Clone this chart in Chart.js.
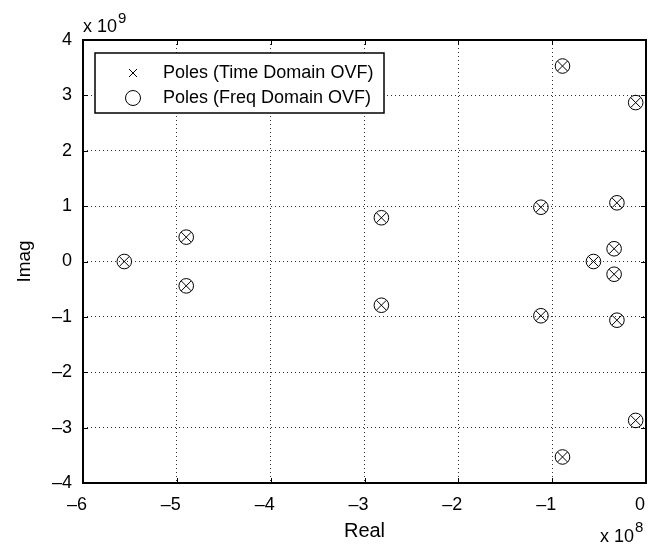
<!DOCTYPE html>
<html>
<head>
<meta charset="utf-8">
<script src="https://cdn.jsdelivr.net/npm/chart.js@4.4.0/dist/chart.umd.min.js"></script>
<style>
	html, body { margin: 0; padding: 0; background: #fff; }
	#wrap { width: 649px; height: 546px; }
</style>
</head>
<body>
<div id="wrap"><canvas id="myChart" width="649" height="546"></canvas></div>
<script>
// Poles, real part in units of 1e8, imaginary part in units of 1e9
const poleReal = [-5.56, -4.9, -4.9, -2.82, -2.82, -1.12, -1.12, -0.89, -0.89, -0.56, -0.34, -0.34, -0.31, -0.31, -0.11, -0.11];
const poleImag = [0, 0.44, -0.44, 0.79, -0.79, 0.98, -0.98, 3.53, -3.53, 0, 0.23, -0.23, 1.06, -1.06, 2.87, -2.87];

const seriesLabels = ['Poles (Time Domain OVF)', 'Poles (Freq Domain OVF)'];
const xTicks = [-6, -5, -4, -3, -2, -1, 0];
const yTicks = [-4, -3, -2, -1, 0, 1, 2, 3, 4];

const XSCALE = 1e8, YSCALE = 1e9;
const FONT = "'Liberation Sans', Arial, sans-serif";

var points = poleReal.map(function(r, i) {
	return {x: r * XSCALE, y: poleImag[i] * YSCALE};
});

function moins(v) {
	return String(v).replace('-', '\u2013');
}

function sansPadding(scale) {
	scale.paddingLeft = 0;
	scale.paddingRight = 0;
	scale.paddingTop = 0;
	scale.paddingBottom = 0;
}

// cadre, petites graduations, légende, exposants
const cadrePlugin = {
	id: 'cadre',
	afterDraw: function(chart) {
		var ctx = chart.ctx;
		var a = chart.chartArea;
		var sx = chart.scales.x, sy = chart.scales.y;
		ctx.save();
		ctx.strokeStyle = '#000';
		ctx.lineWidth = 1;
		// graduations vers l'intérieur
		var t = 5;
		ctx.beginPath();
		xTicks.forEach(function(v) {
			var px = Math.round(sx.getPixelForValue(v * XSCALE)) + 0.5;
			ctx.moveTo(px, a.bottom); ctx.lineTo(px, a.bottom - t);
			ctx.moveTo(px, a.top); ctx.lineTo(px, a.top + t);
		});
		yTicks.forEach(function(v) {
			var py = Math.round(sy.getPixelForValue(v * YSCALE)) + 0.5;
			ctx.moveTo(a.left, py); ctx.lineTo(a.left + t, py);
			ctx.moveTo(a.right, py); ctx.lineTo(a.right - t, py);
		});
		ctx.stroke();
		// cadre
		ctx.lineWidth = 2;
		ctx.strokeRect(a.left, a.top, a.right - a.left, a.bottom - a.top);

		// légende
		var lx = 95, ly = 53, lw = 289, lh = 60;
		ctx.fillStyle = '#fff';
		ctx.fillRect(lx, ly, lw, lh);
		ctx.lineWidth = 1.5;
		ctx.strokeRect(lx, ly, lw, lh);
		ctx.lineWidth = 1;
		var mx = 133;
		var y1 = 73, y2 = 98, r = 4;
		ctx.beginPath();
		ctx.moveTo(mx - r, y1 - r); ctx.lineTo(mx + r, y1 + r);
		ctx.moveTo(mx - r, y1 + r); ctx.lineTo(mx + r, y1 - r);
		ctx.stroke();
		ctx.beginPath();
		ctx.arc(mx, y2, 7.5, 0, Math.PI * 2);
		ctx.stroke();
		ctx.fillStyle = '#000';
		ctx.font = '18px ' + FONT;
		ctx.textBaseline = 'middle';
		ctx.textAlign = 'left';
		ctx.fillText(seriesLabels[0], 163, y1);
		ctx.fillText(seriesLabels[1], 163, y2);

		// exposants
		ctx.textBaseline = 'alphabetic';
		ctx.font = '18px ' + FONT;
		ctx.fillText('x 10', 83, 32);
		var w = ctx.measureText('x 10').width;
		ctx.font = '15px ' + FONT;
		ctx.fillText('9', 83 + w + 1, 23);

		ctx.font = '18px ' + FONT;
		ctx.fillText('x 10', 600, 542);
		w = ctx.measureText('x 10').width;
		ctx.font = '15px ' + FONT;
		ctx.fillText('8', 600 + w + 1, 532);
		ctx.restore();
	}
};

var ctx = document.getElementById('myChart').getContext('2d');

var chart = new Chart(ctx, {
	type: 'scatter',
	data: {
		datasets: [
		{
			label: seriesLabels[0],
			data: points,
			pointStyle: 'crossRot',
			pointRadius: 7,
			pointHoverRadius: 7,
			borderColor: '#000',
			backgroundColor: '#000',
			borderWidth: 1
		},
		{
			label: seriesLabels[1],
			data: points,
			pointStyle: 'circle',
			pointRadius: 7.3,
			pointHoverRadius: 7.3,
			borderColor: '#000',
			backgroundColor: 'rgba(0,0,0,0)',
			borderWidth: 1
		}]
	},
	options: {
		responsive: false,
		animation: false,
		events: [],
		layout: {
			autoPadding: false,
			padding: {left: 0, right: 3, top: 40, bottom: 0}
		},
		scales: {
			x: {
				type: 'linear',
				min: -6 * XSCALE,
				max: 0,
				afterFit: function(scale) { scale.height = 63; sansPadding(scale); },
				afterBuildTicks: function(scale) {
					scale.ticks = xTicks.map(function(v) { return {value: v * XSCALE}; });
				},
				grid: {
					color: '#333',
					lineWidth: 1,
					drawTicks: false
				},
				border: { display: false, dash: [1, 3] },
				ticks: {
					padding: 11,
					labelOffset: -6,
					color: '#000',
					font: { family: FONT, size: 18 },
					maxRotation: 0,
					callback: function(value) { return moins(Math.round(value / XSCALE)); }
				},
				title: {
					display: true,
					text: 'Real',
					color: '#000',
					font: { family: FONT, size: 20 },
					padding: {top: 0, bottom: 3}
				}
			},
			y: {
				type: 'linear',
				min: -4 * YSCALE,
				max: 4 * YSCALE,
				afterFit: function(scale) { scale.width = 83; sansPadding(scale); },
				afterBuildTicks: function(scale) {
					scale.ticks = yTicks.map(function(v) { return {value: v * YSCALE}; });
				},
				grid: {
					color: '#333',
					lineWidth: 1,
					drawTicks: false
				},
				border: { display: false, dash: [1, 3] },
				ticks: {
					padding: 11,
					color: '#000',
					font: { family: FONT, size: 18 },
					callback: function(value) { return moins(Math.round(value / YSCALE)); }
				},
				title: {
					display: true,
					text: 'Imag',
					color: '#000',
					font: { family: FONT, size: 19 },
					padding: {top: 13, bottom: 0}
				}
			}
		},
		plugins: {
			legend: { display: false },
			tooltip: { enabled: false }
		}
	},
	plugins: [cadrePlugin]
});
</script>
</body>
</html>
